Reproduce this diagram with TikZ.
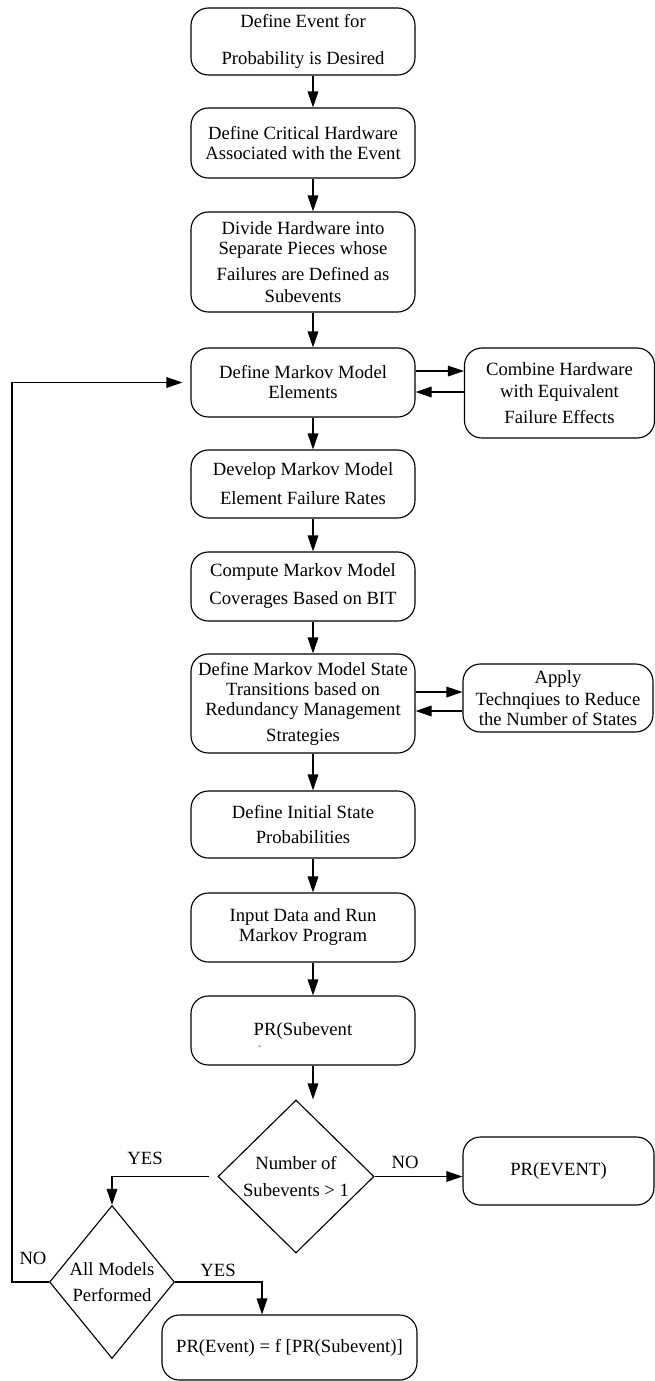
\documentclass[tikz,border=0pt]{standalone}
\usepackage{fontspec}
\setmainfont{Liberation Serif}
\usetikzlibrary{positioning,shapes.geometric,arrows.meta}

\begin{document}
\begin{tikzpicture}[x=0.75pt,y=-0.75pt,
  font=\fontsize{14pt}{15pt}\selectfont,
  every node/.style={align=center},
  flowbox/.style={draw,rounded corners=13pt,line width=0.85pt,minimum width=168pt,inner sep=0pt},
  sidebox/.style={draw,rounded corners=13pt,line width=0.85pt,minimum width=142.5pt,inner sep=0pt},
  decision/.style={draw,diamond,line width=0.85pt,inner sep=0pt},
  flowarrow/.style={line width=0.85pt,-{Triangle[length=12pt,width=8pt]}}]
  \useasboundingbox (0,0) rectangle (655,1381);

  \node[flowbox,minimum height=50.25pt] (event) at (303,41.5) {Define Event for\\[12.75pt]Probability is Desired};
  \node[flowbox,minimum height=52.5pt] (hardware) at (303,143) {Define Critical Hardware\\Associated with the Event};
  \node[flowbox,minimum height=75pt] (pieces) at (303,262) {Divide Hardware into\\Separate Pieces whose\\[5pt]Failures are Defined as\\[1.5pt]Subevents};
  \node[flowbox,minimum height=51.75pt] (elements) at (303,382.5) {Define Markov Model\\Elements};
  \node[sidebox,minimum height=67.5pt] (combine) at (559.5,393) {Combine Hardware\\[1.5pt]with Equivalent\\[5pt]Failure Effects};
  \node[flowbox,minimum height=51pt] (rates) at (303,484) {Develop Markov Model\\[6.75pt]Element Failure Rates};
  \node[flowbox,minimum height=51.75pt] (coverage) at (303,586.5) {Compute Markov Model\\[6pt]Coverages Based on BIT};
  \node[flowbox,minimum height=74.25pt] (transitions) at (303,703.5) {Define Markov Model State\\Transitions based on\\Redundancy Management\\[4.5pt]Strategies};
  \node[sidebox,minimum height=51pt] (reduce) at (558,698) {Apply\\[1.5pt]Technqiues to Reduce\\the Number of States};
  \node[flowbox,minimum height=50.25pt] (initial) at (303,824.5) {Define Initial State\\[3.75pt]Probabilities};
  \node[flowbox,minimum height=51.75pt] (runprog) at (303,927.5) {Input Data and Run\\Markov Program};
  \node[flowbox,minimum height=51.75pt] (subprob) at (303,1030.5) {PR(Subevent};
  \node[font=\fontsize{8pt}{8pt}\selectfont] (tick) at (260,1050) {\textasciigrave};
  \node[decision,minimum width=117pt,minimum height=114.75pt] (count) at (296,1176.5) {Number of\\[5pt]Subevents > 1};
  \node[sidebox,minimum width=143.25pt,minimum height=51pt] (prevent) at (558.5,1171) {PR(EVENT)};
  \node[decision,shape aspect=0.8,minimum width=93.75pt,minimum height=114.75pt] (allmodels) at (112,1282) {All Models\\[4.5pt]Performed};
  \node[flowbox,minimum width=191.25pt,minimum height=48.75pt] (result) at (289.5,1347.5) {PR(Event) = f [PR(Subevent)]};

  \node (yescount) at (145,1158) {YES};
  \node (nocount) at (405,1162) {NO};
  \node (noall) at (33,1258) {NO};
  \node (yesall) at (218,1270) {YES};

  \coordinate (spine) at (313,0);
  \coordinate (loop) at (12,1282);
  \foreach \a/\b in {event/hardware,hardware/pieces,pieces/elements,elements/rates,rates/coverage,coverage/transitions,transitions/initial,initial/runprog,runprog/subprob}
    \draw[flowarrow] (\a.south -| spine) -- (\b.north -| spine);
  \draw[flowarrow] (subprob.south -| spine) -- (count.north -| spine);

  \draw[flowarrow] ([yshift=8.6pt]elements.east) -- ([yshift=8.6pt]elements.east -| combine.west);
  \draw[flowarrow] ([yshift=0.75pt]combine.west) -- ([yshift=0.75pt]combine.west -| elements.east);
  \draw[flowarrow] ([yshift=8.6pt]transitions.east) -- ([yshift=8.6pt]transitions.east -| reduce.west);
  \draw[flowarrow] ([yshift=-9.75pt]reduce.west) -- ([yshift=-9.75pt]reduce.west -| transitions.east);

  \draw[flowarrow] ([xshift=-6pt]count.west) -| (allmodels.north);
  \draw[flowarrow] (count.east) -- (count.east -| prevent.west);
  \draw[flowarrow] (allmodels.east) -| ([xshift=-20.6pt]result.north);
  \draw[flowarrow,shorten >=6pt] (allmodels.west) -- (loop) |- (elements.west);
\end{tikzpicture}
\end{document}
